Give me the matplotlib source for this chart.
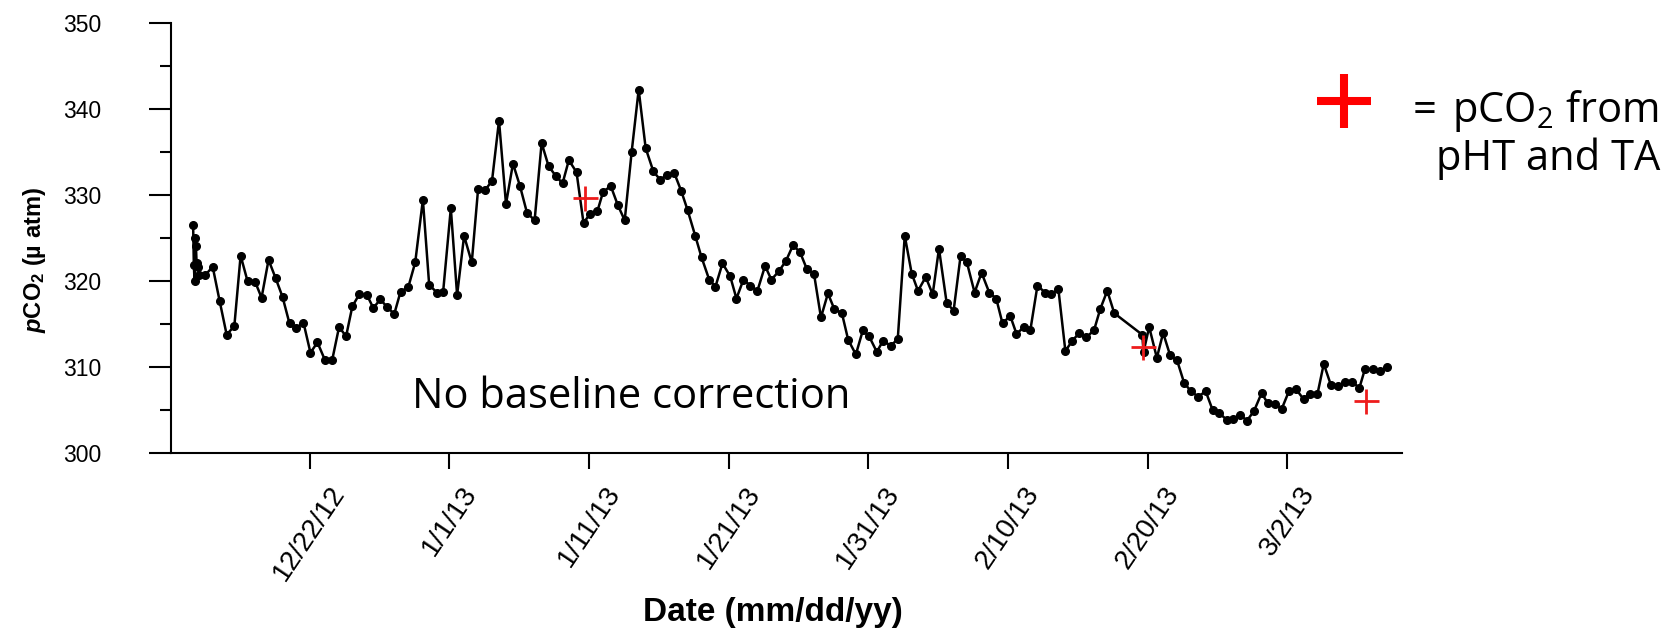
import numpy as np
import matplotlib
matplotlib.use('Agg')
import matplotlib.pyplot as plt

plt.rcParams['font.family'] = ['Liberation Sans', 'DejaVu Sans']
plt.rcParams['mathtext.fontset'] = 'custom'
plt.rcParams['mathtext.default'] = 'regular'
plt.rcParams['mathtext.it'] = 'Liberation Sans:italic:bold'

# days since 12/22/12 and measured pCO2 (uatm)
days = [-8.35, -8.30, -8.25, -8.20, -8.15, -8.10, -8.00, -7.90, -7.50, -6.95,
        -6.45, -5.95, -5.40, -4.95, -4.45, -3.90, -3.45, -2.95, -2.45, -1.95,
        -1.45, -0.95, -0.45, 0.05, 0.55, 1.10, 1.60, 2.10, 2.60, 3.05,
        3.55, 4.10, 4.55, 5.05, 5.55, 6.05, 6.50, 7.05, 7.55, 8.10,
        8.55, 9.10, 9.55, 10.10, 10.55, 11.05, 11.60, 12.05, 12.55, 13.05,
        13.55, 14.05, 14.55, 15.05, 15.55, 16.10, 16.60, 17.10, 17.60, 18.10,
        18.55, 19.10, 19.60, 20.05, 20.60, 21.00, 21.55, 22.05, 22.55, 23.05,
        23.55, 24.05, 24.60, 25.10, 25.55, 26.10, 26.60, 27.05, 27.60, 28.05,
        28.60, 29.05, 29.55, 30.10, 30.55, 31.05, 31.55, 32.05, 32.60, 33.05,
        33.60, 34.10, 34.60, 35.10, 35.60, 36.10, 36.60, 37.10, 37.55, 38.10,
        38.55, 39.10, 39.60, 40.05, 40.60, 41.05, 41.60, 42.10, 42.60, 43.10,
        43.55, 44.10, 44.60, 45.05, 45.60, 46.10, 46.60, 47.05, 47.60, 48.10,
        48.65, 49.15, 49.60, 50.15, 50.60, 51.15, 51.60, 52.10, 52.65, 53.10,
        53.60, 54.10, 54.60, 55.10, 55.60, 56.15, 56.60, 57.10, 57.60, 59.60,
        59.70, 60.10, 60.65, 61.10, 61.60, 62.10, 62.60, 63.10, 63.60, 64.15,
        64.65, 65.10, 65.65, 66.10, 66.60, 67.10, 67.60, 68.15, 68.60, 69.10,
        69.60, 70.10, 70.60, 71.15, 71.60, 72.15, 72.60, 73.10, 73.65, 74.10,
        74.65, 75.15, 75.55, 76.10, 76.60, 77.15]
pco2 = [326.6, 321.9, 320.1, 325.0, 324.1, 322.1, 321.7, 320.7, 320.7, 321.7,
        317.7, 313.8, 314.8, 323.0, 320.0, 319.9, 318.1, 322.5, 320.4, 318.2,
        315.1, 314.6, 315.2, 311.7, 312.9, 310.8, 310.8, 314.7, 313.6, 317.1,
        318.5, 318.4, 316.9, 317.9, 317.0, 316.2, 318.8, 319.3, 322.2, 329.5,
        319.6, 318.7, 318.8, 328.5, 318.4, 325.3, 322.2, 330.7, 330.6, 331.7,
        338.7, 329.0, 333.7, 331.1, 328.0, 327.1, 336.1, 333.4, 332.3, 331.4,
        334.1, 332.7, 326.8, 327.8, 328.2, 330.4, 331.1, 328.9, 327.1, 335.1,
        342.3, 335.5, 332.8, 331.8, 332.4, 332.6, 330.5, 328.3, 325.3, 322.8,
        320.2, 319.4, 322.1, 320.6, 318.0, 320.2, 319.5, 318.9, 321.8, 320.2,
        321.2, 322.4, 324.2, 323.4, 321.4, 320.9, 315.8, 318.6, 316.8, 316.3,
        313.2, 311.5, 314.3, 313.6, 311.8, 313.1, 312.5, 313.3, 325.3, 320.9,
        318.9, 320.5, 318.5, 323.8, 317.5, 316.6, 323.0, 322.2, 318.7, 321.0,
        318.7, 318.0, 315.1, 316.0, 313.9, 314.7, 314.4, 319.5, 318.7, 318.5,
        319.1, 311.9, 313.1, 314.0, 313.5, 314.3, 316.8, 318.9, 316.3, 313.8,
        311.8, 314.7, 311.1, 314.0, 311.4, 310.8, 308.2, 307.2, 306.6, 307.2,
        305.0, 304.7, 303.9, 304.0, 304.5, 303.8, 304.9, 307.0, 305.8, 305.7,
        305.2, 307.2, 307.5, 306.3, 306.9, 306.9, 310.4, 308.0, 307.8, 308.3,
        308.3, 307.6, 309.8, 309.8, 309.6, 310.0]

# pCO2 calculated from pHT and TA
calc_days = [19.7, 59.65, 75.6]
calc_pco2 = [329.7, 312.4, 306.1]

tick_days = [0, 10, 20, 30, 40, 50, 60, 70]
tick_labels = ['12/22/12', '1/1/13', '1/11/13', '1/21/13', '1/31/13',
               '2/10/13', '2/20/13', '3/2/13']

fig = plt.figure(figsize=(16.76, 6.30), dpi=100)
ax = fig.add_axes([0.1019, 0.2805, 0.7346, 0.6822])

ax.plot(days, pco2, '-o', color='black', lw=1.8, ms=5.5)
ax.plot(calc_days, calc_pco2, '+', color='#ee1c1c', ms=18, mew=2)

ax.set_xlim(-9.95, 78.2)
ax.set_ylim(300, 350)
ax.set_yticks([300, 310, 320, 330, 340, 350])
ax.set_yticks([305, 315, 325, 335, 345], minor=True)
ax.set_xticks(tick_days)
ax.set_xticklabels(tick_labels, rotation=56, ha='center', fontsize=20)
ax.tick_params(axis='y', which='major', length=16, width=1.5, labelsize=16.5, pad=34)
ax.tick_params(axis='y', which='minor', length=8, width=1.5)
ax.tick_params(axis='x', which='major', length=11.5, width=1.5, pad=9)

for s in ['top', 'right']:
    ax.spines[s].set_visible(False)
for s in ['left', 'bottom']:
    ax.spines[s].set_linewidth(1.5)

ax.set_xlabel('Date (mm/dd/yy)', fontsize=24, fontweight='bold')
ax.xaxis.set_label_coords(0.489, -0.335)
ax.set_ylabel('$\\mathit{p}$CO$_2$ (\u00b5 atm)', fontsize=17, fontweight='bold')
ax.yaxis.set_label_coords(-0.0997, 0.45)

ax.text(0.2458, 0.3519, 'No baseline correction', transform=fig.transFigure,
        fontsize=30, family='Open Sans', va='baseline', ha='left')

# legend drawn by hand on the right
ax.plot([0.802], [0.8397], '+', color='red', ms=39, mew=5.8,
        transform=fig.transFigure, clip_on=False)
fig.text(0.843, 0.8068, '=', fontsize=30, family='Open Sans', va='baseline', ha='left')
fig.text(0.9893, 0.8068, 'pCO$_2$ from', fontsize=30, family='Open Sans',
         va='baseline', ha='right')
fig.text(0.9905, 0.7302, 'pHT and TA', fontsize=30, family='Open Sans',
         va='baseline', ha='right')

plt.savefig('out.png', dpi=100)
plt.close()
